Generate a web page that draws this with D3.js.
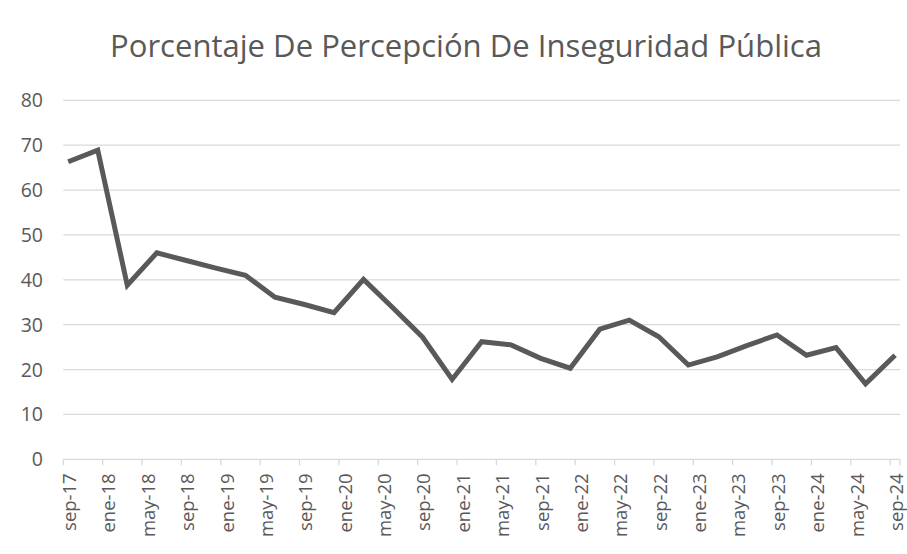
<!DOCTYPE html>
<html><head><meta charset="utf-8">
<script src="https://cdn.jsdelivr.net/npm/d3@7"></script>
<style>body{margin:0;background:#fff;} svg{display:block;}</style>
</head><body>
<svg id="chart" width="907" height="554"></svg>
<script>
// ---- data ----
const periods = ["2017-09","2017-12","2018-03","2018-06","2018-09","2018-12","2019-03","2019-06","2019-09","2019-12",
  "2020-03","2020-06","2020-09","2020-12","2021-03","2021-06","2021-09","2021-12","2022-03","2022-06",
  "2022-09","2022-12","2023-03","2023-06","2023-09","2023-12","2024-03","2024-06","2024-09"];
const values = [66.3,68.9,38.8,46.0,44.3,42.6,41.0,36.1,34.5,32.7,
  40.1,33.7,27.2,17.8,26.2,25.5,22.5,20.3,29.0,31.0,
  27.3,21.0,22.9,25.4,27.7,23.2,24.9,16.8,23.2];
const tickLabels = ["sep-17","ene-18","may-18","sep-18","ene-19","may-19","sep-19","ene-20","may-20","sep-20","ene-21",
  "may-21","sep-21","ene-22","may-22","sep-22","ene-23","may-23","sep-23","ene-24","may-24","sep-24"];
const yTicks = [0,10,20,30,40,50,60,70,80];
const title = "Porcentaje De Percepción De Inseguridad Pública";

// ---- chart ----
(function(){
const svg = d3.select("#chart");
const pLeft = 63.3, pRight = 900, pTop = 100.3, pBottom = 459.3;
const grey = "#595959";
const monthIdx = s => { const [yy,m] = s.split("-").map(Number); return (yy-2017)*12 + (m-9); };
const nMonths = monthIdx(periods[periods.length-1]) + 1;
const x = d3.scaleLinear().domain([0, nMonths]).range([pLeft, pRight]);
const y = d3.scaleLinear().domain([0, 80]).range([pBottom, pTop]);

// gridlines
svg.append("g").selectAll("line").data(yTicks.filter(d=>d>0)).join("line")
  .attr("x1", pLeft).attr("x2", pRight)
  .attr("y1", d=>y(d)).attr("y2", d=>y(d))
  .attr("stroke", "#d9d9d9").attr("stroke-width", 1.3);

// y labels
svg.append("g").selectAll("text").data(yTicks).join("text")
  .attr("x", 43).attr("y", d=>y(d)).attr("dy", "0.36em")
  .attr("text-anchor", "end").attr("fill", grey)
  .style("font-family", "'Open Sans', sans-serif").style("font-size", "19.5px")
  .text(d=>d);

// x axis
const tickMonths = tickLabels.map((d,i)=>i*4);
svg.append("line").attr("x1", pLeft).attr("x2", pRight).attr("y1", pBottom).attr("y2", pBottom)
  .attr("stroke", "#d9d9d9").attr("stroke-width", 1.3);
svg.append("g").selectAll("line").data(tickMonths.concat([nMonths])).join("line")
  .attr("x1", d=>x(d)).attr("x2", d=>x(d)).attr("y1", pBottom).attr("y2", pBottom+6)
  .attr("stroke", "#d9d9d9").attr("stroke-width", 1.3);
svg.append("g").selectAll("text").data(tickLabels).join("text")
  .attr("transform", (d,i)=>`translate(${x(tickMonths[i]+0.5)+0.3},${pBottom+14}) rotate(-90)`)
  .attr("text-anchor", "end").attr("dominant-baseline", "central").attr("fill", grey)
  .style("font-family", "'Open Sans', sans-serif").style("font-size", "18.5px")
  .text(d=>d);

// line
const line = d3.line().x((d,i)=>x(monthIdx(periods[i])+0.5)).y(d=>y(d));
svg.append("path").datum(values).attr("d", line)
  .attr("fill", "none").attr("stroke", grey).attr("stroke-width", 5)
  .attr("stroke-linejoin", "miter").attr("stroke-linecap", "butt");

// title
const t = svg.append("text").attr("x", 466).attr("y", 57)
  .attr("text-anchor", "middle").attr("fill", grey)
  .style("font-family", "'Open Sans', sans-serif").style("font-size", "28px")
  .text(title);
const w = t.node().getComputedTextLength();
t.style("font-size", (28*712/w).toFixed(2)+"px");
})();
</script>
</body></html>
